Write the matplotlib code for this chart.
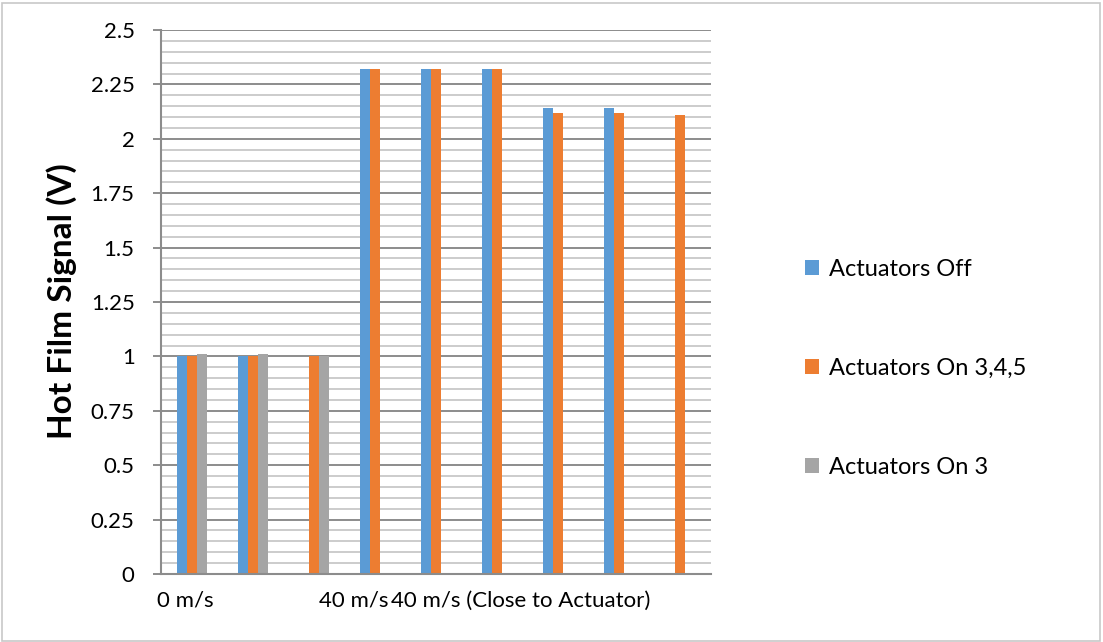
import numpy as np
import matplotlib.pyplot as plt
from matplotlib.ticker import MultipleLocator, FuncFormatter
from matplotlib.patches import Rectangle

plt.rcParams['font.family'] = ['Lato', 'DejaVu Sans']

# hot film readings per run (NaN = no reading for that run)
off = [1.00, 1.00, np.nan, 2.32, 2.32, 2.32, 2.14, 2.14, np.nan]
on_345 = [1.00, 1.00, 1.00, 2.32, 2.32, 2.32, 2.12, 2.12, 2.11]
on_3 = [1.01, 1.01, 1.00, np.nan, np.nan, np.nan, np.nan, np.nan, np.nan]
series_names = ['Actuators Off', 'Actuators On 3,4,5', 'Actuators On 3']
colors = ['#5B9BD5', '#ED7D31', '#A5A5A5']

group_labels = ['0 m/s', '40 m/s', '40 m/s (Close to Actuator)']
label_pos = [-0.1, 2.66, 5.38]

fig = plt.figure(figsize=(11.03, 6.42), dpi=100)
ax = fig.add_axes([161/1103, 1-574/642, 550/1103, 544/642])

x = np.arange(len(on_345))
w = 0.164
handles = []
for k, (vals, name, c) in enumerate(zip([off, on_345, on_3], series_names, colors)):
    b = ax.bar(x + (k-1)*w, vals, w, color=c, label=name, zorder=3)
    handles.append(b)

ax.set_xlim(-0.5, len(x)-0.5)
ax.set_ylim(0, 2.5)

ax.yaxis.set_major_locator(MultipleLocator(0.25))
ax.yaxis.set_minor_locator(MultipleLocator(0.05))
ax.yaxis.set_major_formatter(FuncFormatter(lambda v, p: '%g' % v))
ax.grid(which='major', axis='y', color='#8c8c8c', lw=1.4, zorder=1)
ax.grid(which='minor', axis='y', color='#bfbfbf', lw=1.1, zorder=1)
ax.tick_params(axis='y', which='major', length=6, width=1.4, color='#8c8c8c',
               labelsize=16, pad=13)
ax.tick_params(axis='y', which='minor', length=0)

ax.set_xticks(label_pos)
ax.set_xticklabels(group_labels)
ax.tick_params(axis='x', length=0, labelsize=16, pad=12)

for s in ['top', 'right']:
    ax.spines[s].set_visible(False)
for s in ['left', 'bottom']:
    ax.spines[s].set_color('#8c8c8c')
    ax.spines[s].set_linewidth(1.5)
    ax.spines[s].set_zorder(4)

fig.text(62/1103, 1-301/642, 'Hot Film Signal (V)', rotation=90, fontsize=24,
         fontweight='bold', ha='center', va='center')

fig.legend(handles=handles, loc='center left', bbox_to_anchor=(805/1103, 1-368.7/642),
           frameon=False, fontsize=17, labelspacing=3.3, handlelength=0.6,
           handleheight=0.6, handletextpad=0.4, borderpad=0, borderaxespad=0)

fig.add_artist(Rectangle((2/1103, 1/642), 1098/1103, 638/642, transform=fig.transFigure,
                         fill=False, edgecolor='#c8c8c8', lw=1.2))

fig.savefig('out.png', dpi=100)
